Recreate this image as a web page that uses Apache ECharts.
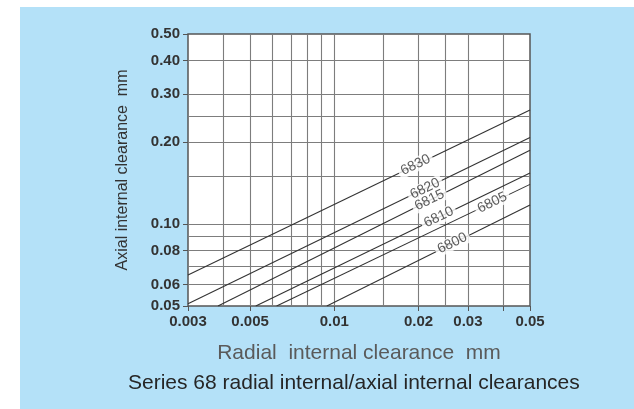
<!DOCTYPE html>
<html>
<head>
<meta charset="utf-8">
<script src="https://cdn.jsdelivr.net/npm/echarts@6/dist/echarts.min.js"></script>
<style>
  html, body { margin: 0; padding: 0; background: #fff; }
  #chart { width: 634px; height: 409px; }
</style>
</head>
<body>
<div id="chart"></div>
<script>
// bearing series and the two end points of each line
var curveNames = ["6830", "6820", "6815", "6810", "6805", "6800"];
var startX = [0.003, 0.003, 0.00384, 0.00524, 0.00622, 0.0094];
var startY = [0.065, 0.051, 0.05, 0.05, 0.05, 0.05];
var endX = [0.05, 0.05, 0.05, 0.05, 0.05, 0.05];
var endY = [0.263, 0.208, 0.187, 0.154, 0.140, 0.1175];

// where the series number sits on each line
var labelX = [0.0195, 0.0211, 0.0219, 0.0236, 0.0367, 0.0264];
var labelY = [0.165, 0.135, 0.1225, 0.106, 0.120, 0.085];

// ticks, tick labels and grid lines
var xTicks = [0.003, 0.005, 0.01, 0.02, 0.03, 0.04, 0.05];
var xLabelVals = [0.003, 0.005, 0.01, 0.02, 0.03, 0.05];
var xLabelText = ["0.003", "0.005", "0.01", "0.02", "0.03", "0.05"];
var yLabelVals = [0.05, 0.06, 0.08, 0.1, 0.2, 0.3, 0.4, 0.5];
var yLabelText = ["0.05", "0.06", "0.08", "0.10", "0.20", "0.30", "0.40", "0.50"];
var xGrid = [0.004, 0.005, 0.006, 0.007, 0.008, 0.009, 0.01, 0.015, 0.02, 0.025, 0.03, 0.04];
var yGrid = [0.06, 0.07, 0.08, 0.09, 0.1, 0.15, 0.2, 0.25, 0.3, 0.4];

function lookup(vals, texts) {
  return function (v) {
    for (var i = 0; i < vals.length; i++) {
      if (Math.abs(vals[i] - v) < vals[i] * 1e-6) return texts[i];
    }
    return "";
  };
}

var font = "'Liberation Sans', Arial, Helvetica, sans-serif";
var myChart = echarts.init(document.getElementById("chart"));

var gridLines = [];
xGrid.forEach(function (v) { gridLines.push({ xAxis: v }); });
yGrid.forEach(function (v) { gridLines.push({ yAxis: v }); });

var series = curveNames.map(function (name, i) {
  var s = {
    name: name,
    type: "line",
    z: 2,
    silent: true,
    symbol: "none",
    lineStyle: { color: "#333", width: 1.1 },
    data: [[startX[i], startY[i]], [endX[i], endY[i]]]
  };
  if (i === 0) {
    // the log grid: markLine keeps the lines on the axis scale
    s.markLine = {
      z: 1,
      silent: true,
      symbol: "none",
      precision: 6,
      animation: false,
      label: { show: false },
      lineStyle: { type: "solid", color: "#7d7d7d", width: 1.1 },
      data: gridLines
    };
  }
  return s;
});

// numbers on the lines, white box breaks the line
series.push({
  type: "scatter",
  z: 3,
  silent: true,
  symbolSize: 0,
  data: labelX.map(function (x, i) { return { value: [x, labelY[i]], name: curveNames[i] }; }),
  label: {
    show: true,
    position: "inside",
    formatter: "{b}",
    rotate: 26,
    color: "#333",
    fontSize: 14,
    fontFamily: font,
    backgroundColor: "#fff",
    padding: [0, 3]
  }
});

myChart.setOption({
  animation: false,
  backgroundColor: "#fff",
  graphic: [{
    type: "rect",
    z: -10,
    silent: true,
    shape: { x: 20, y: 7, width: 620, height: 410 },
    style: { fill: "#b4e1f8" }
  }],
  title: {
    text: "Series 68 radial internal/axial internal clearances",
    left: 128,
    top: 373,
    padding: 0,
    textStyle: { color: "#262626", fontSize: 21, fontWeight: "normal", fontFamily: font }
  },
  grid: {
    left: 188,
    top: 34,
    width: 342,
    height: 272,
    show: true,
    backgroundColor: "#fff",
    borderColor: "#555",
    borderWidth: 1.5
  },
  xAxis: {
    type: "log",
    logBase: 10,
    min: 0.003,
    max: 0.05,
    name: "Radial  internal clearance  mm",
    nameLocation: "middle",
    nameGap: 37,
    nameTextStyle: { color: "#5a5a5a", fontSize: 21, fontFamily: font },
    axisLine: { show: false },
    splitLine: { show: false },
    axisTick: { show: true, customValues: xTicks, length: 5, lineStyle: { color: "#555" } },
    axisLabel: {
      customValues: xLabelVals,
      formatter: lookup(xLabelVals, xLabelText),
      margin: 8,
      color: "#333",
      fontSize: 15,
      fontWeight: "bold",
      fontFamily: font
    }
  },
  yAxis: {
    type: "log",
    logBase: 10,
    min: 0.05,
    max: 0.5,
    name: "Axial internal clearance  mm",
    nameLocation: "middle",
    nameRotate: 90,
    nameGap: 57,
    nameTextStyle: { color: "#333", fontSize: 16, fontFamily: font },
    axisLine: { show: false },
    splitLine: { show: false },
    axisTick: { show: true, customValues: yLabelVals, length: 5, lineStyle: { color: "#555" } },
    axisLabel: {
      customValues: yLabelVals,
      formatter: lookup(yLabelVals, yLabelText),
      margin: 8,
      color: "#333",
      fontSize: 15,
      fontWeight: "bold",
      fontFamily: font
    }
  },
  series: series
});
</script>
</body>
</html>
